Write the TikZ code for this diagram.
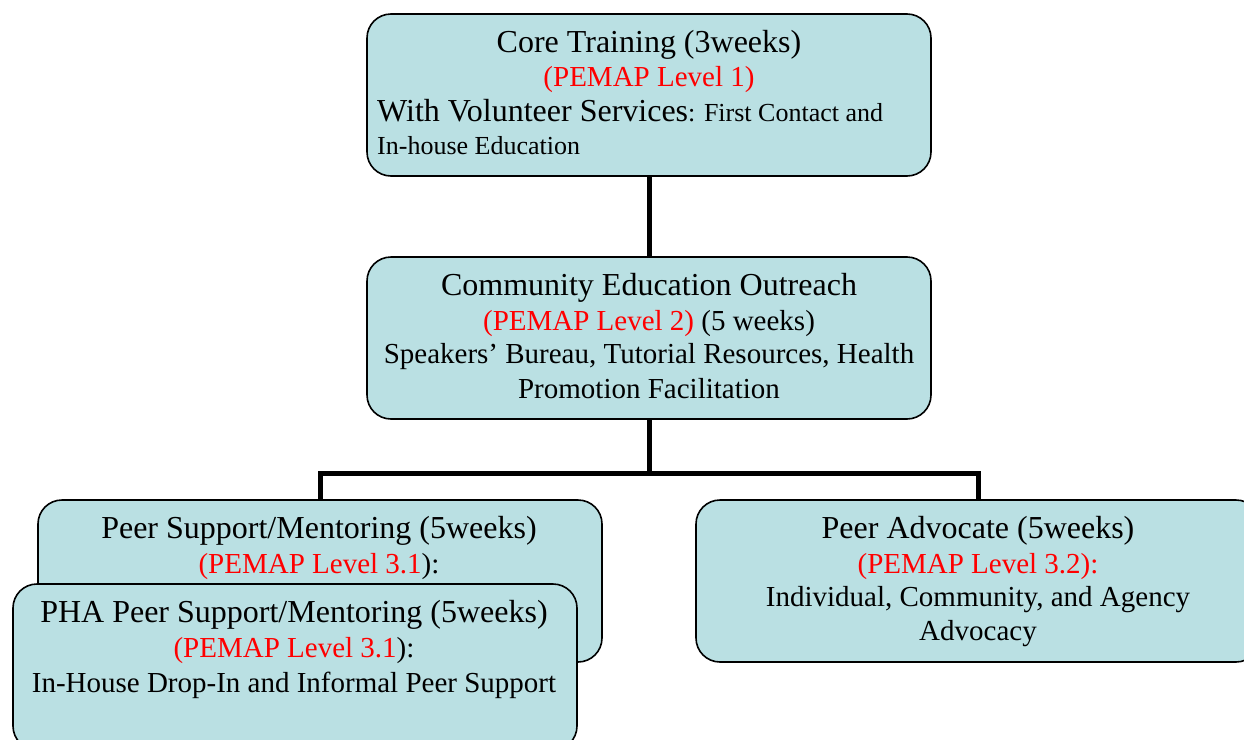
\documentclass[tikz,border=0pt]{standalone}
\usepackage{fontspec}
\setmainfont{Liberation Serif}
\definecolor{boxfill}{RGB}{186,224,227}
\definecolor{pemap}{RGB}{255,0,0}
\begin{document}
\begin{tikzpicture}[x=1pt,y=-1pt,
  box/.style={draw=black, line width=1.6pt, fill=boxfill, rounded corners=24pt,
    rectangle, minimum width=564pt, minimum height=162pt, inner sep=0pt},
  conn/.style={line width=5pt},
  head/.style={anchor=base, inner sep=0pt, font=\fontsize{32}{35}\selectfont},
  body/.style={anchor=base, inner sep=0pt, font=\fontsize{29}{33}\selectfont},
  lefttxt/.style={anchor=base west, inner sep=0pt}]
\useasboundingbox (0,0) rectangle (1244,739);
\clip (0,0) rectangle (1244,739);
% boxes
\node[box] (top) at (649,95) {};
\node[box] (mid) at (649,338) {};
\node[box] (back) at (320,581) {};
\node[box, minimum height=166pt] (front) at (295,667) {};
\node[box] (right) at (978,581) {};
% connectors
\draw[conn] (top.south) -- (mid.north);
\draw[conn] (mid.south) -- ++(0,54) coordinate (j) -| (back.north);
\draw[conn] (j) -| (right.north);
% top box text
\node[head] (t1) at (649,52) {Core Training (3weeks)};
\node[body, text=pemap] (t2) at (649,86) {(PEMAP Level 1)};
\node[lefttxt, font=\fontsize{32}{35}\selectfont] (t3) at (377,121) {With Volunteer Services{\fontsize{26}{30}\selectfont: First Contact and}};
\node[lefttxt, font=\fontsize{26}{30}\selectfont] (t4) at (377,154) {In-house Education};
% middle box text
\node[head] (m1) at (649,295) {Community Education Outreach};
\node[body] (m2) at (649,330) {{\color{pemap}(PEMAP Level 2)} (5 weeks)};
\node[body] (m3) at (649,363) {Speakers’ Bureau, Tutorial Resources, Health};
\node[body] (m4) at (649,398) {Promotion Facilitation};
% back box text
\node[head] (b1) at (319,538) {Peer Support/Mentoring (5weeks)};
\node[body] (b2) at (319,573) {{\color{pemap}(PEMAP Level 3.1}):};
% front box text
\node[head] (f1) at (294,622) {PHA Peer Support/Mentoring (5weeks)};
\node[body] (f2) at (294,657) {{\color{pemap}(PEMAP Level 3.1}):};
\node[body] (f3) at (294,692) {In-House Drop-In and Informal Peer Support};
% right box text
\node[head] (r1) at (978,538) {Peer Advocate (5weeks)};
\node[body, text=pemap] (r2) at (978,573) {(PEMAP Level 3.2):};
\node[body] (r3) at (978,606) {Individual, Community, and Agency};
\node[body] (r4) at (978,640) {Advocacy};
\end{tikzpicture}
\end{document}
